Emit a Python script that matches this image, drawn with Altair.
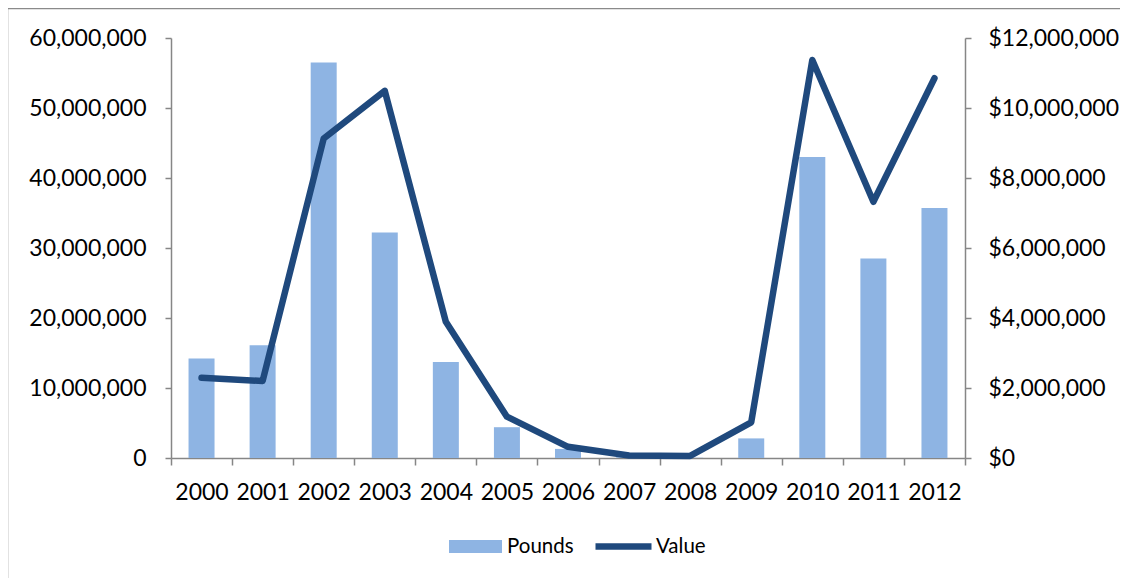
import altair as alt
import pandas as pd

years = ["2000", "2001", "2002", "2003", "2004", "2005", "2006",
         "2007", "2008", "2009", "2010", "2011", "2012"]
pounds = [14.2e6, 16.1e6, 56.5e6, 32.2e6, 13.7e6, 4.4e6, 1.3e6,
          0.1e6, 0.05e6, 2.8e6, 43.0e6, 28.5e6, 35.7e6]
values = [2.29e6, 2.20e6, 9.13e6, 10.49e6, 3.89e6, 1.18e6, 0.32e6,
          0.07e6, 0.06e6, 1.02e6, 11.37e6, 7.32e6, 10.85e6]
left_ticks = [0, 10e6, 20e6, 30e6, 40e6, 50e6, 60e6]
right_ticks = [0, 2e6, 4e6, 6e6, 8e6, 10e6, 12e6]

df = pd.DataFrame({"Year": years, "Pounds": pounds, "Value": values})
df["sPounds"] = "Pounds"
df["sValue"] = "Value"

FONT = "Lato"
AXC = "#868686"
FS = 23

x = alt.X("Year:N", title=None, sort=years,
          scale=alt.Scale(paddingInner=0, paddingOuter=0),
          axis=alt.Axis(labelAngle=0, tickBand="extent", domainColor=AXC,
                        tickColor=AXC, tickSize=7, tickWidth=1.5, domainWidth=1.5,
                        labelPadding=16, labelFontSize=FS, labelFont=FONT,
                        labelColor="black", grid=False))

border = alt.Chart(pd.DataFrame({"a": [0]})).mark_rect(
    fill="transparent", stroke="#8a8a8a", strokeWidth=1.5
).encode(x=alt.value(-163.5), x2=alt.value(1100), y=alt.value(-29.5), y2=alt.value(700))

bars = alt.Chart(df).mark_bar(size=26).encode(
    x=x,
    y=alt.Y("Pounds:Q", title=None,
            scale=alt.Scale(domain=[0, 60e6], nice=False),
            axis=alt.Axis(orient="left", values=left_ticks, format=",.0f",
                          domainColor=AXC, tickColor=AXC, tickSize=6, tickWidth=1.5,
                          domainWidth=1.5, labelPadding=19, labelFontSize=FS,
                          labelFont=FONT, labelColor="black", grid=False)),
    fill=alt.Fill("sPounds:N",
                  scale=alt.Scale(domain=["Pounds"], range=["#8EB4E3"]),
                  legend=alt.Legend(title=None, orient="none", legendX=278, legendY=482,
                                    symbolType="M-1,-0.245H1V0.245H-1Z", symbolSize=2809,
                                    symbolStrokeWidth=0, labelFontSize=20.5, labelFont=FONT,
                                    labelColor="black", labelOffset=5, padding=0)),
)

line = alt.Chart(df).mark_line(strokeWidth=6.5, strokeCap="round", strokeJoin="round").encode(
    x=x,
    y=alt.Y("Value:Q", title=None,
            scale=alt.Scale(domain=[0, 12e6], nice=False),
            axis=alt.Axis(orient="right", values=right_ticks, format="$,.0f",
                          domainColor=AXC, tickColor=AXC, tickSize=6, tickWidth=1.5,
                          domainWidth=1.5, labelPadding=17, labelFontSize=FS,
                          labelFont=FONT, labelColor="black", grid=False)),
    stroke=alt.Stroke("sValue:N",
                      scale=alt.Scale(domain=["Value"], range=["#1F497D"]),
                      legend=alt.Legend(title=None, orient="none", legendX=421, legendY=477,
                                        symbolType="M-1,0H1", symbolSize=3136,
                                        symbolStrokeWidth=6.5, labelFontSize=20.5, labelFont=FONT,
                                        labelColor="black", labelOffset=1, padding=0)),
)

chart = alt.layer(border, bars, line).resolve_scale(y="independent").properties(
    width=794, height=420,
    autosize=alt.AutoSizeParams(type="none"),
    padding={"left": 163, "top": 30, "right": 155, "bottom": 120},
).configure_view(stroke=None)

chart.save("out.html", embed_options={"renderer": "svg", "actions": False})
